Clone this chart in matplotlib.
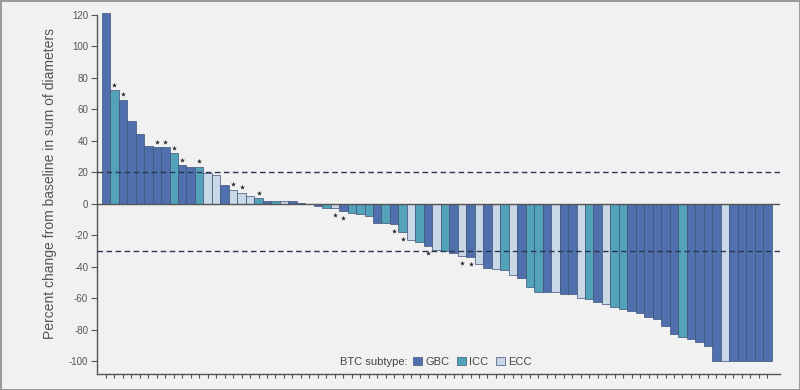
import matplotlib
matplotlib.use("Agg")
import matplotlib.pyplot as plt
from matplotlib.patches import Patch
import numpy as np

plt.rcParams['font.family'] = ['Liberation Sans', 'DejaVu Sans']

# Percent change per patient (sorted waterfall)
values = [121, 72, 66, 52.5, 44, 37, 36, 36, 32, 24.5,
          23.5, 23.5, 19.5, 18, 12, 9, 7, 5, 3.5, 2,
          2, 2, 2, 0.3, -0.3, -1.5, -2.5, -2.5, -4.5, -6,
          -6.5, -7.5, -12, -12, -13, -18, -23, -24, -26.5, -29,
          -30, -31.5, -33, -34, -38.5, -41, -41.5, -42, -45, -47,
          -52.5, -56, -56, -56, -57.5, -57.5, -59.5, -60.5, -62, -63.5,
          -65.5, -67, -68, -69, -72, -73, -77.5, -82.5, -84.5, -86,
          -88, -90.5, -100, -100, -100, -100, -100, -100, -100]
subtypes = ["G", "I", "G", "G", "G", "G", "G", "G", "I", "G",
            "G", "I", "E", "E", "G", "E", "E", "E", "I", "G",
            "I", "E", "G", "G", "G", "G", "I", "E", "G", "I",
            "I", "I", "G", "I", "G", "I", "E", "I", "G", "E",
            "I", "G", "E", "G", "E", "G", "E", "I", "E", "G",
            "I", "I", "G", "E", "G", "G", "E", "I", "G", "E",
            "I", "I", "G", "G", "G", "G", "G", "G", "I", "G",
            "G", "G", "G", "E", "G", "G", "G", "G", "G"]
# bars (1-based) marked with an asterisk
starred = [2, 3, 7, 8, 9, 10, 12, 16, 17, 19, 28, 29, 35, 36, 39, 43, 44]

labels = {"G": "GBC", "I": "ICC", "E": "ECC"}
colors = {"G": "#5070ad", "I": "#52a2ba", "E": "#c8d8e6"}
ref_lines = [20, -30]
yticks = [120, 100, 80, 60, 40, 20, 0, -20, -40, -60, -80, -100]

bg = "#f1f1f1"
fig = plt.figure(figsize=(8, 3.9), dpi=100, facecolor=bg)
fig.patch.set_edgecolor("#9a9a9a")
fig.patch.set_linewidth(2)
ax = fig.add_axes([96.5 / 800, 16 / 390, (780 - 96.5) / 800, 364 / 390])
ax.set_facecolor(bg)

x = np.arange(len(values))
ax.bar(x, values, width=1.0, color=[colors[s] for s in subtypes],
       edgecolor="#3f5278", linewidth=0.5, zorder=2)

for r in ref_lines:
    ax.axhline(r, color="#2a3550", lw=1.0, ls=(0, (4, 2.5)), zorder=3)
ax.axhline(0, color="#555555", lw=1.0, zorder=3)

sx, sy = [], []
for b in starred:
    v = values[b - 1]
    sx.append(b - 1)
    sy.append(v + 3.5 if v >= 0 else v - 4.5)
ax.scatter(sx, sy, marker="*", s=14, color="#222222", zorder=4, linewidths=0)

ax.set_xlim(-1.11, 79.5)
ax.set_ylim(-108, 123)
ax.set_yticks(yticks)
ax.set_yticklabels([str(t) for t in yticks], fontsize=7, color="#555555")
ax.set_xticks(x)
ax.set_xticklabels([])
ax.tick_params(axis="x", length=3, width=0.8, color="#555555", direction="out")
ax.tick_params(axis="y", length=4, width=0.8, color="#555555", pad=2)
for s in ["top", "right"]:
    ax.spines[s].set_visible(False)
for s in ["left", "bottom"]:
    ax.spines[s].set_color("#555555")
    ax.spines[s].set_linewidth(1.0)
ax.spines["left"].set_bounds(-108, 120)

ax.set_ylabel("Percent change from baseline in sum of diameters",
              fontsize=10, color="#555555")
ax.yaxis.set_label_coords(-0.058, 0.522)

fig.text(340 / 800, 1 - 362 / 390, "BTC subtype:", fontsize=8, color="#444444",
         va="center", ha="left")
handles = [Patch(facecolor=colors[k], edgecolor="#3f5278", linewidth=0.5,
                 label=labels[k]) for k in ["G", "I", "E"]]
leg = fig.legend(handles=handles, ncol=3, loc="center left",
                 bbox_to_anchor=(413 / 800, 1 - 362 / 390),
                 bbox_transform=fig.transFigure, frameon=False,
                 fontsize=8, handlelength=0.8, handleheight=0.8,
                 handletextpad=0.3, columnspacing=0.7, borderpad=0,
                 borderaxespad=0)
for t in leg.get_texts():
    t.set_color("#444444")

fig.savefig("out.png", dpi=100, facecolor=bg)
